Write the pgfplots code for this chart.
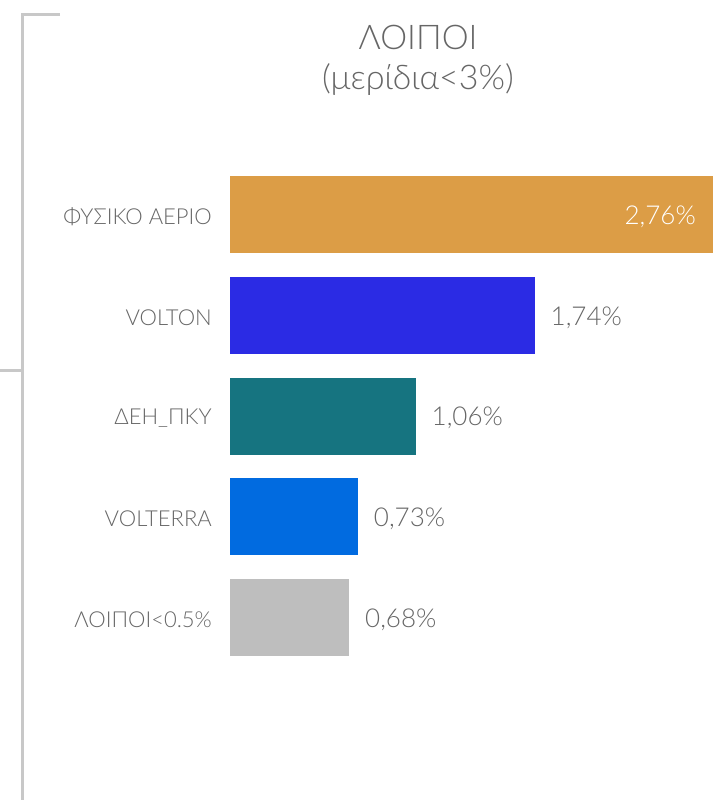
\documentclass[border=0pt]{standalone}
\usepackage{fontspec}
\setmainfont{Lato}[UprightFont={* Light}]
\usepackage{pgfplots}
\pgfplotsset{compat=1.18}
\definecolor{cOrange}{HTML}{DC9D46}
\definecolor{cVolton}{HTML}{2B2BE4}
\definecolor{cTeal}{HTML}{167480}
\definecolor{cVolterra}{HTML}{016BE0}
\definecolor{cGray}{HTML}{BEBEBE}
\definecolor{txtgray}{HTML}{666666}
\definecolor{linegray}{HTML}{C8C8C8}
\begin{document}
\begin{tikzpicture}
\path[use as bounding box] (0,0) rectangle (722pt,-800pt);
\draw[linegray, line width=3pt] (60pt,-15pt) -- (22pt,-15pt) -- (22pt,-801pt);
\draw[linegray, line width=3pt] (-1pt,-370pt) -- (22pt,-370pt);
\node[text=txtgray, font=\fontsize{34}{40}\selectfont] at (418pt,-37pt) {ΛΟΙΠΟΙ};
\node[text=txtgray, font=\fontsize{34}{40}\selectfont] at (418pt,-80pt) {(μερίδια<3\%)};
\begin{axis}[
  at={(230pt,-668pt)}, anchor=south west,
  scale only axis, width=483pt, height=503.75pt,
  xmin=0, xmax=2.76, ymin=-0.5, ymax=4.5, y dir=reverse,
  axis lines=left, axis line style={draw=none},
  xtick=\empty, ytick={0,1,2,3,4},
  yticklabels={ΦΥΣΙΚΟ ΑΕΡΙΟ, VOLTON, ΔΕΗ\_ΠΚΥ, VOLTERRA, ΛΟΙΠΟΙ<0.5\%},
  major tick length=0pt,
  yticklabel style={anchor=east, inner sep=0pt, xshift=-18pt, yshift=-2pt, text=txtgray, font=\fontsize{22}{26}\selectfont},
  every node near coord/.append style={anchor=west, inner sep=0pt, xshift=16pt, yshift=-2pt, text=txtgray, font=\fontsize{26}{30}\selectfont},
  clip=false,
]
\addplot[xbar, bar width=0.764, bar shift=0pt, fill=cOrange, draw=none,
  nodes near coords={2,76\%},
  every node near coord/.append style={anchor=east, xshift=-33pt, text=white}]
  coordinates {(2.76,0)};
\addplot[xbar, bar width=0.764, bar shift=0pt, fill=cVolton, draw=none,
  nodes near coords={1,74\%}] coordinates {(1.74,1)};
\addplot[xbar, bar width=0.764, bar shift=0pt, fill=cTeal, draw=none,
  nodes near coords={1,06\%}] coordinates {(1.06,2)};
\addplot[xbar, bar width=0.764, bar shift=0pt, fill=cVolterra, draw=none,
  nodes near coords={0,73\%}] coordinates {(0.73,3)};
\addplot[xbar, bar width=0.764, bar shift=0pt, fill=cGray, draw=none,
  nodes near coords={0,68\%}] coordinates {(0.68,4)};
\end{axis}
\end{tikzpicture}
\end{document}
